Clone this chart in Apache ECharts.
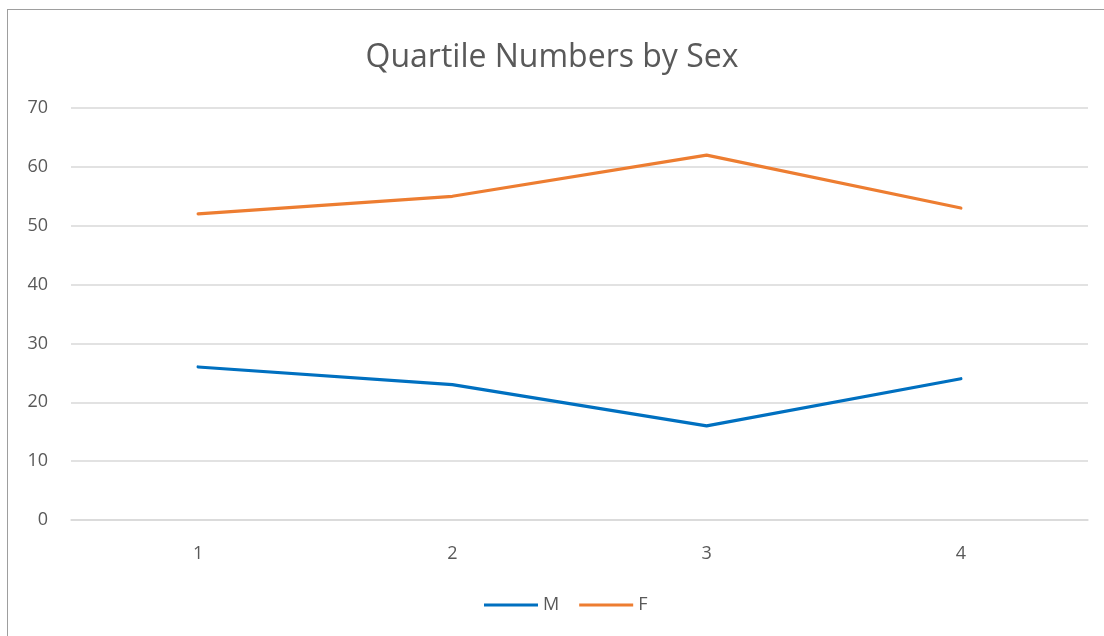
<!DOCTYPE html>
<html><head><meta charset="utf-8">
<script src="https://cdn.jsdelivr.net/npm/echarts@6/dist/echarts.min.js"></script>
<style>
html,body{margin:0;padding:0;background:#fff;}
#wrap{position:relative;width:1104px;height:636px;}
#frame{position:absolute;left:7px;top:9px;right:-2px;bottom:-2px;border-left:1px solid #9e9e9e;border-top:1px solid #9e9e9e;pointer-events:none;z-index:2;}
#chart{position:absolute;left:0;top:0;width:1104px;height:636px;}
</style></head>
<body><div id="wrap"><div id="chart"></div><div id="frame"></div></div>
<script>
const categories = ['1','2','3','4'];
const maleValues = [26, 23, 16, 24];
const femaleValues = [52, 55, 62, 53];
const seriesNames = ['M','F'];

const chart = echarts.init(document.getElementById('chart'), null, {renderer:'canvas'});
const textColor = '#595959';
chart.setOption({
  animation:false,
  backgroundColor:'#fff',
  title:{text:'Quartile Numbers by Sex',left:'center',top:37,
    textStyle:{fontFamily:'Open Sans',fontSize:32,fontWeight:'normal',color:textColor}},
  grid:{left:71,right:16,top:108,bottom:116},
  legend:{data:seriesNames,bottom:17,left:479,itemWidth:54,itemHeight:3,itemGap:20,
    textStyle:{fontFamily:'Open Sans',fontSize:18,color:textColor},
    icon:'rect'},
  xAxis:{type:'category',data:categories,boundaryGap:true,
    axisLine:{lineStyle:{color:'#d9d9d9',width:1.5}},axisTick:{show:false},
    axisLabel:{fontFamily:'Open Sans',fontSize:18,color:textColor,margin:25}},
  yAxis:{type:'value',min:0,max:70,interval:10,
    axisLine:{show:false},axisTick:{show:false},
    splitLine:{lineStyle:{color:'#d9d9d9',width:1.5}},
    axisLabel:{fontFamily:'Open Sans',fontSize:18,color:textColor,margin:23}},
  series:[
    {name:seriesNames[0],type:'line',data:maleValues,symbol:'none',
      lineStyle:{color:'#0070C0',width:3.2,cap:'round',join:'round'},itemStyle:{color:'#0070C0'}},
    {name:seriesNames[1],type:'line',data:femaleValues,symbol:'none',
      lineStyle:{color:'#ED7D31',width:3.2,cap:'round',join:'round'},itemStyle:{color:'#ED7D31'}}
  ]
});
</script></body></html>
